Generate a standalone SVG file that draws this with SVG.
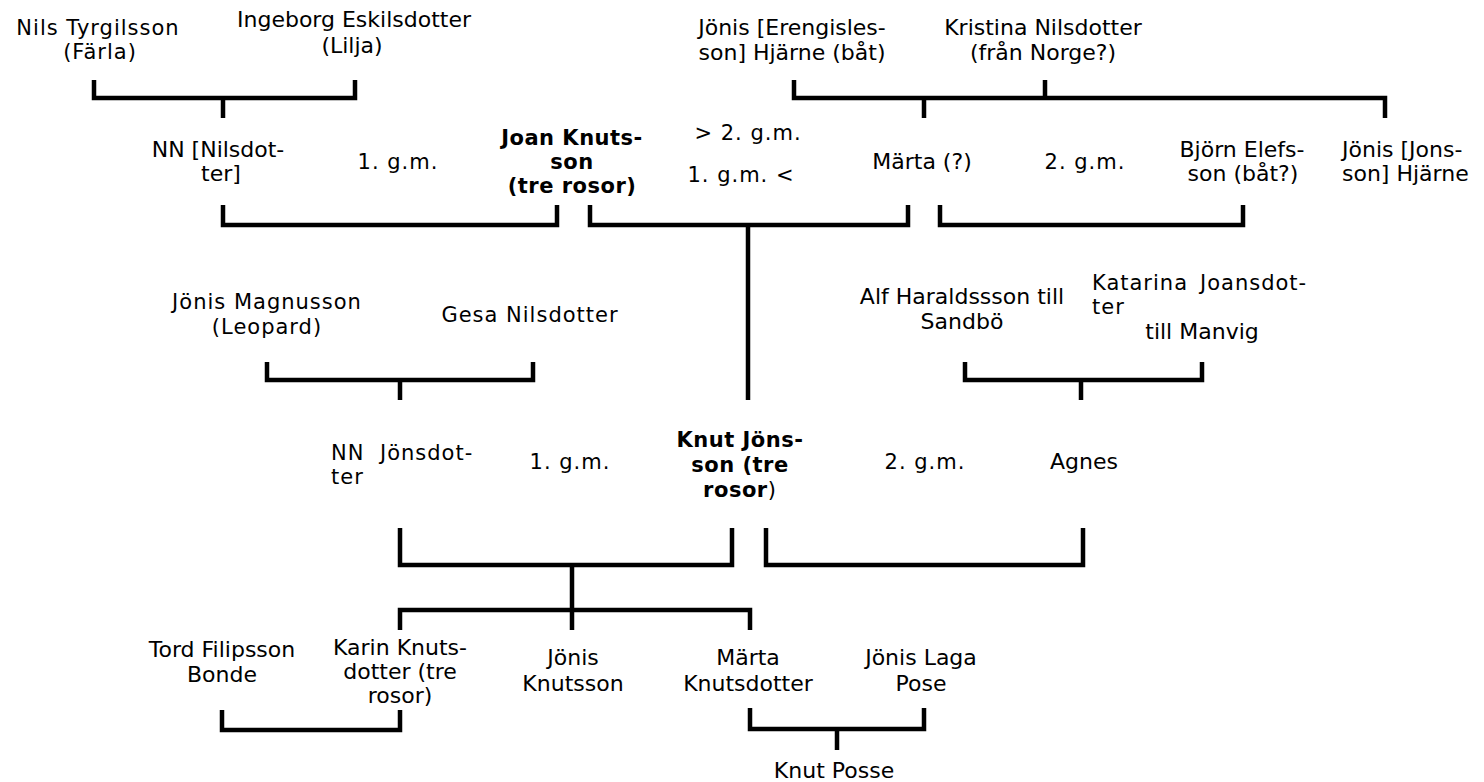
<svg xmlns="http://www.w3.org/2000/svg" width="1484" height="782" viewBox="0 0 1484 782">
<style>
text { fill:#000; text-anchor:middle; }
.w { font-family:"DejaVu Sans", Verdana, sans-serif; font-size:21px; letter-spacing:1px; }
.c { font-family:"DejaVu Sans", Verdana, sans-serif; font-size:22px; }
.b { font-weight:bold; letter-spacing:0.5px; }
.s { text-anchor:start; }
.link { fill:none; stroke:#000; stroke-width:4.5; stroke-linejoin:miter; stroke-linecap:butt; }
</style>
<rect width="1484" height="782" fill="#fff"/>
<g id="connectors" class="link">
<path d="M94,80 V98 H355 V80 M223,98 V118"/>
<path d="M794,80 V98 H1385 V118 M1045,80 V98 M924,98 V118"/>
<path d="M223,205 V225 H557 V205"/>
<path d="M590,205 V225 H908 V205 M748,225 V400"/>
<path d="M940,205 V225 H1243 V205"/>
<path d="M267,362 V380 H533 V362 M400,380 V400"/>
<path d="M965,362 V380 H1202 V362 M1081,380 V400"/>
<path d="M400,528 V565 H732 V528"/>
<path d="M766,528 V565 H1083 V528"/>
<path d="M572,565 V630 M400,630 V610 H750 V630"/>
<path d="M222,710 V730 H400 V710"/>
<path d="M750,708 V729 H924 V708 M837,729 V750"/>
</g>
<g id="nils-tyrgilsson"><text class="w" x="98" y="35">Nils Tyrgilsson</text><text class="w" x="100" y="59">(Färla)</text></g>
<g id="ingeborg-eskilsdotter"><text class="c" x="354" y="27">Ingeborg Eskilsdotter</text><text class="c" x="352" y="53">(Lilja)</text></g>
<g id="jonis-erengislesson"><text class="c" x="792" y="35">Jönis [Erengisles-</text><text class="c" x="792" y="60">son] Hjärne (båt)</text></g>
<g id="kristina-nilsdotter"><text class="c" x="1043" y="35">Kristina Nilsdotter</text><text class="c" x="1043" y="60">(från Norge?)</text></g>
<g id="nn-nilsdotter"><text class="c" x="218" y="157">NN [Nilsdot-</text><text class="c" x="221" y="181">ter]</text></g>
<g id="marriage-1-joan"><text class="w" x="398" y="169">1. g.m.</text></g>
<g id="joan-knutsson"><text class="w b" x="572" y="145">Joan Knuts-</text><text class="w b" x="572" y="169">son</text><text class="w b" x="572" y="193">(tre rosor)</text></g>
<g id="marriage-labels-marta"><text class="w" x="748" y="140">&gt; 2. g.m.</text><text class="w" x="741" y="182">1. g.m. &lt;</text></g>
<g id="marta"><text class="c" x="922" y="169">Märta (?)</text></g>
<g id="marriage-2-marta"><text class="w" x="1085" y="169">2. g.m.</text></g>
<g id="bjorn-elefsson"><text class="c" x="1242" y="157">Björn Elefs-</text><text class="c" x="1243" y="181">son (båt?)</text></g>
<g id="jonis-jonsson"><text class="c s" x="1342" y="157">Jönis [Jons-</text><text class="c s" x="1342" y="181">son] Hjärne</text></g>
<g id="jonis-magnusson"><text class="w" x="267" y="309">Jönis Magnusson</text><text class="w" x="267" y="334">(Leopard)</text></g>
<g id="gesa-nilsdotter"><text class="w" x="530" y="322">Gesa Nilsdotter</text></g>
<g id="alf-haraldsson"><text class="c" x="962" y="304">Alf Haraldssson till</text><text class="c" x="962" y="329">Sandbö</text></g>
<g id="katarina-joansdotter"><text class="w s" x="1092" y="290">Katarina<tspan x="1200">Joansdot-</tspan></text><text class="w s" x="1092" y="314">ter</text><text class="c" x="1202" y="339">till Manvig</text></g>
<g id="nn-jonsdotter"><text class="w s" x="331" y="460">NN<tspan x="380">Jönsdot-</tspan></text><text class="w s" x="331" y="484">ter</text></g>
<g id="marriage-1-knut"><text class="w" x="570" y="469">1. g.m.</text></g>
<g id="knut-jonsson"><text class="w b" x="740" y="447">Knut Jöns-</text><text class="w b" x="740" y="472">son (tre</text><text class="w" x="740" y="497"><tspan class="b">rosor</tspan>)</text></g>
<g id="marriage-2-knut"><text class="w" x="925" y="469">2. g.m.</text></g>
<g id="agnes"><text class="c" x="1084" y="469">Agnes</text></g>
<g id="tord-filipsson"><text class="c" x="222" y="657">Tord Filipsson</text><text class="c" x="222" y="682">Bonde</text></g>
<g id="karin-knutsdotter"><text class="c" x="400" y="655">Karin Knuts-</text><text class="c" x="400" y="679">dotter (tre</text><text class="c" x="400" y="703">rosor)</text></g>
<g id="jonis-knutsson"><text class="c" x="573" y="665">Jönis</text><text class="c" x="573" y="691">Knutsson</text></g>
<g id="marta-knutsdotter"><text class="c" x="748" y="665">Märta</text><text class="c" x="748" y="691">Knutsdotter</text></g>
<g id="jonis-laga"><text class="c" x="921" y="665">Jönis Laga</text><text class="c" x="921" y="691">Pose</text></g>
<g id="knut-posse"><text class="c" x="834" y="778">Knut Posse</text></g>
</svg>
